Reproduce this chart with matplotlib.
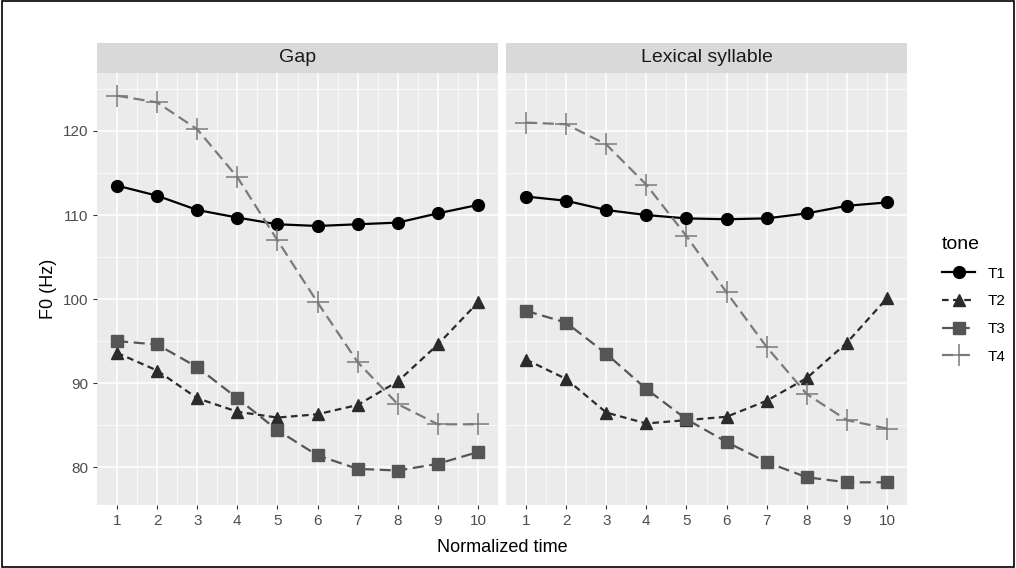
import matplotlib.pyplot as plt
from matplotlib.patches import Rectangle

plt.rcParams['font.family'] = ['Liberation Sans', 'DejaVu Sans']

times = list(range(1, 11))
panels = ["Gap", "Lexical syllable"]
tones = ["T1", "T2", "T3", "T4"]

gap_t1 = [113.5, 112.3, 110.6, 109.7, 108.9, 108.7, 108.9, 109.1, 110.2, 111.2]
gap_t2 = [93.6, 91.5, 88.2, 86.6, 85.9, 86.3, 87.4, 90.2, 94.6, 99.6]
gap_t3 = [95.0, 94.6, 91.9, 88.2, 84.4, 81.4, 79.8, 79.6, 80.4, 81.8]
gap_t4 = [124.2, 123.4, 120.2, 114.5, 107.0, 99.6, 92.5, 87.5, 85.1, 85.1]

lex_t1 = [112.2, 111.7, 110.6, 110.0, 109.6, 109.5, 109.6, 110.2, 111.1, 111.5]
lex_t2 = [92.8, 90.5, 86.5, 85.2, 85.6, 86.0, 87.9, 90.6, 94.8, 100.1]
lex_t3 = [98.6, 97.2, 93.5, 89.3, 85.7, 83.0, 80.6, 78.8, 78.2, 78.2]
lex_t4 = [121.0, 120.8, 118.4, 113.6, 107.5, 100.8, 94.3, 88.7, 85.6, 84.6]

data = {"Gap": [gap_t1, gap_t2, gap_t3, gap_t4],
        "Lexical syllable": [lex_t1, lex_t2, lex_t3, lex_t4]}

styles = [dict(color="#000000", ls="-", marker="o", ms=8.5, mfc="#000000"),
          dict(color="#2b2b2b", ls=(0, (3, 2)), marker="^", ms=9, mfc="#2b2b2b"),
          dict(color="#555555", ls=(0, (5, 2.5)), marker="s", ms=8.5, mfc="#555555"),
          dict(color="#7a7a7a", ls=(0, (5, 2.5)), marker="+", ms=16, mew=1.1)]

fig = plt.figure(figsize=(10.16, 5.68), dpi=100)
W, H = 1016, 568
axes = []
for i, name in enumerate(panels):
    x0 = 97 + i * 409
    ax = fig.add_axes([x0 / W, (H - 505) / H, 401 / W, (505 - 73) / H])
    ax.set_facecolor("#ebebeb")
    ax.set_xlim(0.5, 10.5)
    ax.set_ylim(75.5, 126.9)
    ax.set_xticks(times)
    ax.set_yticks([80, 90, 100, 110, 120])
    ax.set_xticks([t + 0.5 for t in times[:-1]], minor=True)
    ax.set_yticks([85, 95, 105, 115, 125], minor=True)
    ax.grid(which="major", color="white", lw=1.1)
    ax.grid(which="minor", color="white", lw=0.5)
    ax.set_axisbelow(True)
    for s in ax.spines.values():
        s.set_visible(False)
    ax.tick_params(which="both", length=3, color="#333333", labelsize=11, labelcolor="#4d4d4d")
    ax.tick_params(which="minor", length=0)
    if i == 1:
        ax.tick_params(axis="y", labelleft=False, length=0)
    for k, tone in enumerate(tones):
        ax.plot(times, data[name][k], lw=1.6, label=tone, **styles[k])
    # strip
    sax = fig.add_axes([x0 / W, (H - 73) / H, 401 / W, 30 / H])
    sax.set_facecolor("#d9d9d9")
    sax.set_xticks([]); sax.set_yticks([])
    for s in sax.spines.values():
        s.set_visible(False)
    sax.text(0.5, 0.5, name, ha="center", va="center", fontsize=14, color="#1a1a1a")
    axes.append(ax)

axes[0].set_ylabel("F0 (Hz)", fontsize=13)
fig.text((97 + 907) / 2 / W, (H - 548) / H, "Normalized time", ha="center", va="center", fontsize=13)

h, l = axes[0].get_legend_handles_labels()
leg = fig.legend(h, l, title="tone", loc="upper left", bbox_to_anchor=(928 / W, (H - 222) / H),
                 frameon=False, fontsize=11, title_fontsize=14, handlelength=2.2, labelspacing=0.9)
leg._legend_box.align = "left"

fig.patches.append(Rectangle((0.002, 0.002), 0.996, 0.996, transform=fig.transFigure,
                             fill=False, edgecolor="black", lw=1.2))
fig.savefig("out.png", dpi=100)
